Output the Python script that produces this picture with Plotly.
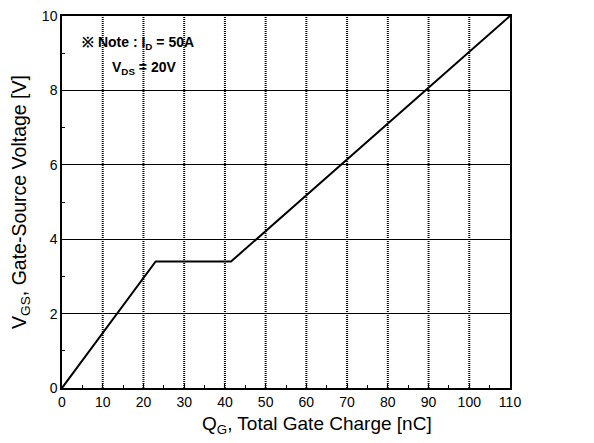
import plotly.graph_objects as go

# Gate charge curve data (nC, V)
qg = [0, 23, 41.5, 110]
vgs = [0, 3.4, 3.4, 10]

x_ticks = list(range(0, 111, 10))
y_ticks = list(range(0, 11, 2))

fig = go.Figure()

# vertical dotted grid lines
for xv in x_ticks[1:-1]:
    fig.add_shape(type="line", x0=xv, x1=xv, y0=0, y1=10, xref="x", yref="y",
                  line=dict(color="black", width=2, dash="1px,1px"), layer="below")

fig.add_trace(go.Scatter(x=qg, y=vgs, mode="lines",
                         line=dict(color="black", width=2), showlegend=False))

font = "Liberation Sans, Arial, sans-serif"

fig.update_layout(
    width=586, height=435,
    margin=dict(l=54, r=84, t=8, b=55, autoexpand=False),
    plot_bgcolor="white", paper_bgcolor="white",
    font=dict(family=font, color="black", size=14),
    xaxis=dict(range=[0, 110], tickvals=x_ticks, showgrid=False, zeroline=False,
               showline=True, linecolor="black", linewidth=1.5, mirror=True,
               ticks="inside", ticklen=5, tickcolor="black", ticklabeloverflow="allow",
               minor=dict(ticks="inside", ticklen=3, dtick=5, tickcolor="black")),
    yaxis=dict(range=[0, 10], tickvals=y_ticks, showgrid=True, gridcolor="black",
               gridwidth=1, zeroline=False,
               showline=True, linecolor="black", linewidth=1.5, mirror=True,
               ticks="inside", ticklen=5, tickcolor="black", ticklabeloverflow="allow",
               minor=dict(ticks="inside", ticklen=3, dtick=1, tickcolor="black"),
               title=dict(text="V<sub>GS</sub>, Gate-Source Voltage [V]",
                          font=dict(size=19.5), standoff=20)),
)

# x-axis title (offset to the right as in the reference)
fig.add_annotation(x=0.57, y=-0.099, xref="paper", yref="paper", xanchor="center",
                   yanchor="middle", showarrow=False,
                   text="Q<sub>G</sub>, Total Gate Charge [nC]",
                   font=dict(size=19, family=font))

fig.add_annotation(x=0.04, y=0.928, xref="paper", yref="paper", xanchor="left",
                   yanchor="middle", showarrow=False,
                   text="<b>※ Note : I<sub>D</sub> = 50A</b>",
                   font=dict(size=14, family=font))
fig.add_annotation(x=0.107, y=0.861, xref="paper", yref="paper", xanchor="left",
                   yanchor="middle", showarrow=False,
                   text="<b>V<sub>DS</sub> = 20V</b>",
                   font=dict(size=14, family=font))

fig.write_html("out.html")
